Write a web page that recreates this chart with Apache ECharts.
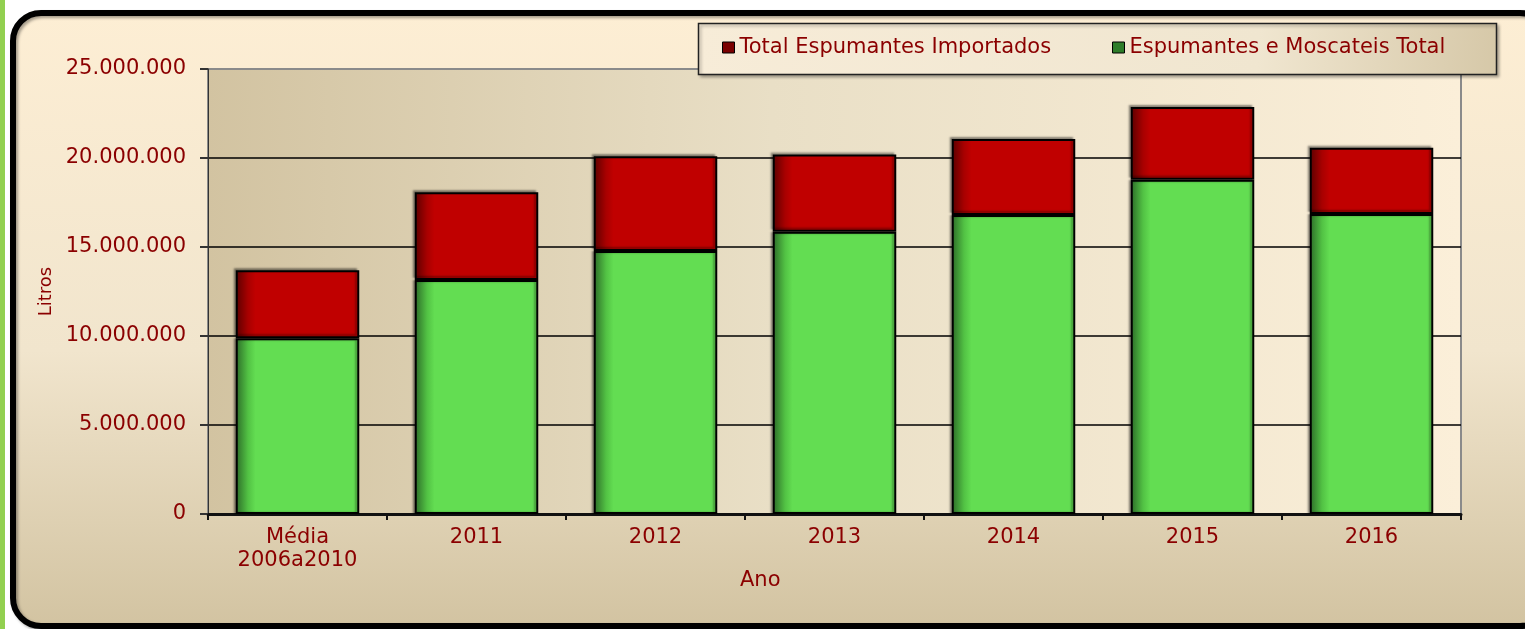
<!DOCTYPE html>
<html>
<head>
<meta charset="utf-8">
<style>
html,body{margin:0;padding:0;background:#fff;}
#chart{width:1525px;height:629px;}
</style>
<script src="https://cdn.jsdelivr.net/npm/echarts@6/dist/echarts.min.js"></script>
</head>
<body>
<div id="chart"></div>
<script>
const categories = ['Média\n2006a2010', '2011', '2012', '2013', '2014', '2015', '2016'];
const espumantesMoscateis = [9870000, 13150000, 14780000, 15860000, 16800000, 18780000, 16850000];
const importados = [3820000, 4920000, 5320000, 4330000, 4270000, 4090000, 3730000];
const yTicks = [0, 5000000, 10000000, 15000000, 20000000, 25000000];
const seriesNames = ['Espumantes e Moscateis Total', 'Total Espumantes Importados'];

const txt = '#8b0000';
const font = 'DejaVu Sans';
function fmt(v) { return String(v).replace(/\B(?=(\d{3})+(?!\d))/g, '.'); }

const chart = echarts.init(document.getElementById('chart'), null, {renderer: 'canvas'});
chart.setOption({
  backgroundColor: '#ffffff',
  animation: false,
  graphic: [
    {type: 'rect', z: -10, shape: {x: 0, y: 0, width: 5, height: 629}, style: {fill: '#92d050'}},
    {type: 'rect', z: -9, shape: {x: 13, y: 13, width: 1535, height: 613, r: 28},
     style: {
       fill: {type: 'linear', x: 0, y: 0, x2: 0, y2: 1, colorStops: [
         {offset: 0, color: '#fdeed4'}, {offset: 0.55, color: '#f1e5cd'}, {offset: 1, color: '#d2c3a1'}]},
       stroke: '#000', lineWidth: 6,
       shadowColor: 'rgba(0,0,0,0.35)', shadowBlur: 3, shadowOffsetX: 2, shadowOffsetY: 2
     }},
    {type: 'rect', z: 5, shape: {x: 698.5, y: 23.5, width: 798, height: 51},
     style: {
       fill: {type: 'linear', x: 0, y: 0, x2: 1, y2: 1, colorStops: [
         {offset: 0, color: '#f7ecd8'}, {offset: 0.7, color: '#f0e6d0'}, {offset: 1, color: '#d6c8a8'}]},
       stroke: '#222', lineWidth: 1.5,
       shadowColor: 'rgba(0,0,0,0.3)', shadowBlur: 3, shadowOffsetX: 2, shadowOffsetY: 2
     }},
    {type: 'text', z: 6, left: 740, top: 570,
     style: {text: 'Ano', fill: txt, font: '21px "DejaVu Sans"'}}
  ],
  legend: [
    {left: 722, top: 37, z: 10, itemWidth: 12, itemHeight: 11, padding: 0,
     textStyle: {color: txt, fontFamily: font, fontSize: 21},
     data: [{name: 'Total Espumantes Importados', icon: 'rect',
             itemStyle: {color: '#7a0000', borderColor: '#000', borderWidth: 1}}]},
    {left: 1112, top: 37, z: 10, itemWidth: 12, itemHeight: 11, padding: 0,
     textStyle: {color: txt, fontFamily: font, fontSize: 21},
     data: [{name: 'Espumantes e Moscateis Total', icon: 'rect',
             itemStyle: {color: '#2e7d2a', borderColor: '#000', borderWidth: 1}}]}
  ],
  grid: {
    left: 208, right: 64, top: 69, bottom: 115, show: true,
    borderWidth: 2, borderColor: '#8a8a8a',
    backgroundColor: {type: 'linear', x: 0, y: 0, x2: 1, y2: 0, colorStops: [
      {offset: 0, color: '#d2c3a1'}, {offset: 0.45, color: '#e9dfc6'}, {offset: 1, color: '#fbefd9'}]}
  },
  xAxis: {
    type: 'category', data: categories,
    axisLine: {show: true, lineStyle: {color: '#111', width: 3}},
    axisTick: {show: true, length: 6, inside: false, lineStyle: {color: '#111', width: 2}},
    axisLabel: {color: txt, fontFamily: font, fontSize: 21, margin: 12, lineHeight: 23}
  },
  yAxis: {
    type: 'value', min: yTicks[0], max: yTicks[yTicks.length - 1], interval: 5000000,
    name: 'Litros', nameLocation: 'middle', nameGap: 153, nameRotate: 90,
    nameTextStyle: {color: txt, fontFamily: font, fontSize: 18},
    axisLine: {show: true, lineStyle: {color: '#333', width: 1}},
    axisTick: {show: true, length: 8, inside: false, lineStyle: {color: '#333', width: 2}},
    axisLabel: {color: txt, fontFamily: font, fontSize: 21, margin: 22,
                formatter: v => yTicks.indexOf(v) >= 0 ? fmt(v) : ''},
    splitLine: {show: true, lineStyle: {color: ['#000', '#000', '#000', '#000', '#000', '#8a8a8a'], width: 1.6}}
  },
  series: [
    {
      name: seriesNames[0], type: 'bar', stack: 'total', barCategoryGap: '31%',
      data: espumantesMoscateis, z: 3,
      itemStyle: {
        color: {type: 'linear', x: 0, y: 0, x2: 1, y2: 0, colorStops: [
          {offset: 0, color: '#2c6a28'}, {offset: 0.1, color: '#52c244'}, {offset: 0.16, color: '#63dd52'}, {offset: 1, color: '#63dd52'}]},
        borderColor: '#000', borderWidth: 2,
        shadowColor: 'rgba(0,0,0,0.35)', shadowBlur: 2, shadowOffsetX: -2, shadowOffsetY: 0
      }
    },
    {
      name: seriesNames[1], type: 'bar', stack: 'total',
      data: importados, z: 3,
      itemStyle: {
        color: {type: 'linear', x: 0, y: 0, x2: 1, y2: 0, colorStops: [
          {offset: 0, color: '#5a0000'}, {offset: 0.1, color: '#a80000'}, {offset: 0.16, color: '#c00000'}, {offset: 1, color: '#c00000'}]},
        borderColor: '#000', borderWidth: 2,
        shadowColor: 'rgba(0,0,0,0.35)', shadowBlur: 2, shadowOffsetX: -2, shadowOffsetY: -2
      }
    }
  ]
});
</script>
</body>
</html>
